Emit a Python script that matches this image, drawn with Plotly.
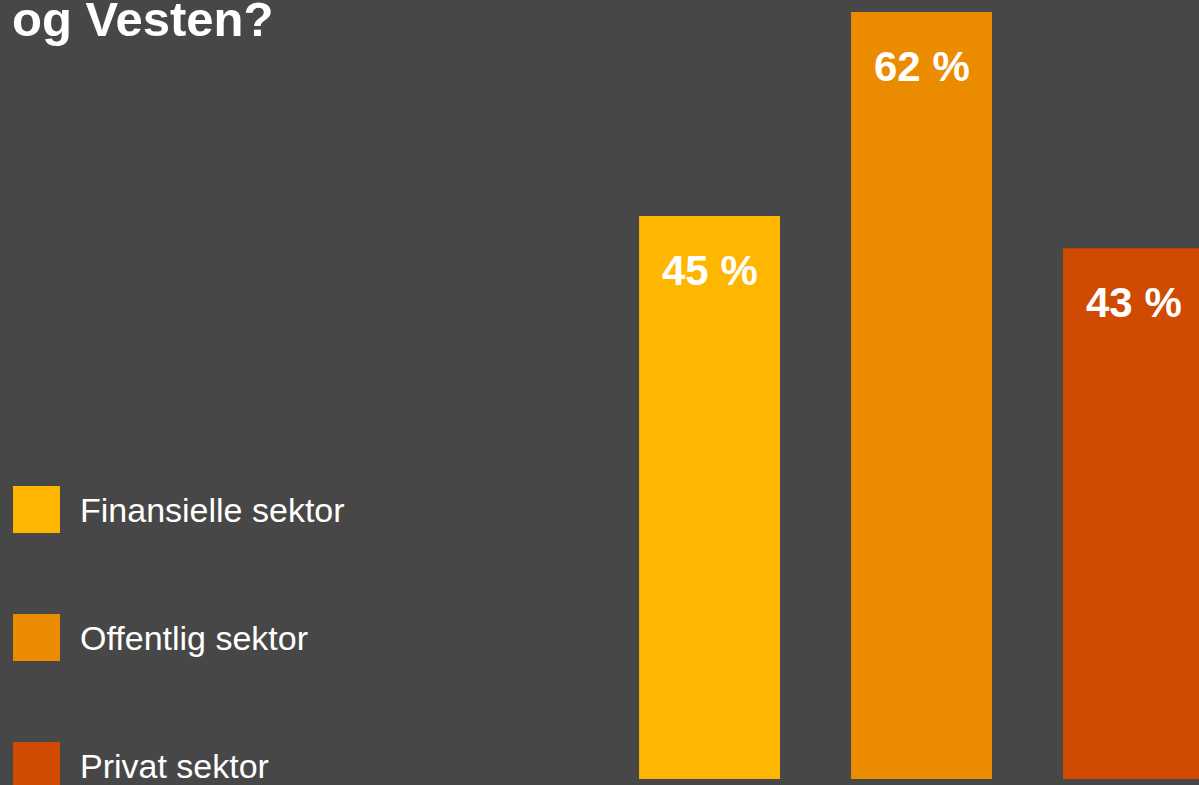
import plotly.graph_objects as go

# ---- data ----
categories = ["Finansielle sektor", "Offentlig sektor", "Privat sektor"]
values = [45.5, 62.0, 42.9]
value_labels = ["45 %", "62 %", "43 %"]
colors = ["#FFB600", "#EB8C00", "#D04A02"]
title_text = "og Vesten?"

W, H = 1199, 785
PLOT_H = 779  # plot area height (top margin 0, bottom margin 6)
BG = "#474747"
FONT = "Liberation Sans, Arial, sans-serif"


def px_x(px):
    return px / W


def px_y(py):
    return 1 - py / PLOT_H


fig = go.Figure()
fig.add_trace(go.Bar(
    x=categories,
    y=values,
    marker=dict(color=colors, line=dict(width=0)),
    hoverinfo="skip",
    showlegend=False,
))

annotations = []
# value labels inside bars, near top
for c, v, t in zip(categories, values, value_labels):
    annotations.append(dict(
        x=c, y=v, xref="x", yref="y", text=t, showarrow=False,
        xanchor="center", yanchor="top", yshift=-29,
        font=dict(family=FONT, size=42, color="white", weight="bold"),
    ))

# title (first line cut off above the view)
annotations.append(dict(
    x=px_x(10), y=px_y(19), xref="paper", yref="paper", text=title_text,
    showarrow=False, xanchor="left", yanchor="middle",
    font=dict(family=FONT, size=49, color="white", weight="bold"),
))

# manual legend
shapes = []
legend_top = 486
legend_step = 128
sq = 47
for i, (c, col) in enumerate(zip(categories, colors)):
    top = legend_top + i * legend_step
    shapes.append(dict(
        type="rect", xref="paper", yref="paper",
        x0=px_x(13), x1=px_x(13 + sq), y0=px_y(top + sq), y1=px_y(top),
        fillcolor=col, line=dict(width=0), layer="above",
    ))
    annotations.append(dict(
        x=px_x(78), y=px_y(top + sq / 2), xref="paper", yref="paper",
        text=c, showarrow=False, xanchor="left", yanchor="middle",
        font=dict(family=FONT, size=34, color="white"),
    ))

fig.update_layout(
    width=W, height=H,
    margin=dict(l=0, r=0, t=0, b=H - PLOT_H, pad=0),
    paper_bgcolor=BG, plot_bgcolor=BG,
    bargap=0.335,
    annotations=annotations,
    shapes=shapes,
    xaxis=dict(type="category", range=[-3.347, 2.309], showticklabels=False,
               showgrid=False, zeroline=False, showline=False, fixedrange=True),
    yaxis=dict(range=[0, 62.97], showticklabels=False, showgrid=False,
               zeroline=False, showline=False, fixedrange=True),
    showlegend=False,
)

fig.write_html(
    "out.html",
    config={"displayModeBar": False},
    post_script="document.body.style.margin='0';document.body.style.overflow='hidden';"
                "document.body.style.background='" + BG + "';",
)
